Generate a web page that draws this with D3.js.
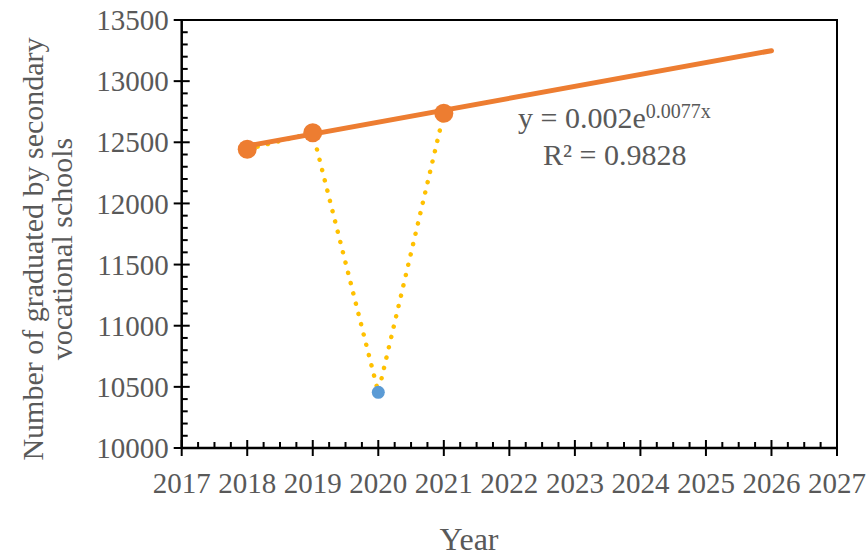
<!DOCTYPE html>
<html>
<head>
<meta charset="utf-8">
<script src="https://cdn.jsdelivr.net/npm/d3@7"></script>
<style>
  body { margin: 0; background: #fff; }
  text { font-family: 'Liberation Serif', 'Times New Roman', serif; fill: #595959; }
</style>
</head>
<body>
<svg id="chart" width="867" height="556"></svg>
<script>
// values
var years = [2018, 2019, 2020, 2021]
var graduates = [12443, 12578, 10455, 12737]
var fitYears = [2018, 2019, 2021]
var fitGraduates = [12443, 12578, 12737]
var trendYears = [2018, 2026]
var trendValues = [12470, 13249]
var xTicks = [2017, 2018, 2019, 2020, 2021, 2022, 2023, 2024, 2025, 2026, 2027]
var yTicks = [10000, 10500, 11000, 11500, 12000, 12500, 13000, 13500]

var svg = d3.select('#chart'),
  plotLeft = 181.7, plotRight = 837, plotTop = 20, plotBottom = 448

var x = d3.scaleLinear().domain([2017, 2027]).range([plotLeft, plotRight])
var y = d3.scaleLinear().domain([10000, 13500]).range([plotBottom, plotTop])

// frame (top and right edges)
svg.append('path')
  .attr('d', 'M' + plotLeft + ',' + plotTop + 'H' + plotRight + 'V' + plotBottom)
  .attr('fill', 'none').attr('stroke', '#000').attr('stroke-width', 2)

// y axis
var yAxis = svg.append('g').attr('transform', 'translate(' + plotLeft + ',0)')
yAxis.append('line').attr('y1', plotTop - 1).attr('y2', plotBottom).attr('stroke', '#000').attr('stroke-width', 2.5)
yAxis.selectAll('.minor')
  .data(d3.range(10000, 13500, 100).filter(function(d) { return d % 500 })).enter()
  .append('line').attr('x1', 0).attr('x2', 6)
  .attr('y1', function(d) { return y(d) }).attr('y2', function(d) { return y(d) })
  .attr('stroke', '#000').attr('stroke-width', 2)
yAxis.selectAll('.major')
  .data(yTicks).enter()
  .append('line').attr('x1', -8).attr('x2', 8)
  .attr('y1', function(d) { return y(d) }).attr('y2', function(d) { return y(d) })
  .attr('stroke', '#000').attr('stroke-width', 2)
yAxis.selectAll('.lbl')
  .data(yTicks).enter()
  .append('text')
  .attr('x', -13).attr('y', function(d) { return y(d) }).attr('dy', '0.35em')
  .attr('text-anchor', 'end').style('font-size', '29px')
  .text(function(d) { return d })

// x axis
var xAxis = svg.append('g').attr('transform', 'translate(0,' + plotBottom + ')')
xAxis.append('line').attr('x1', plotLeft).attr('x2', plotRight).attr('stroke', '#000').attr('stroke-width', 2.5)
xAxis.selectAll('.minor')
  .data(d3.range(2017, 2027, 0.25).filter(function(d) { return d % 1 })).enter()
  .append('line').attr('y1', 0).attr('y2', -6)
  .attr('x1', function(d) { return x(d) }).attr('x2', function(d) { return x(d) })
  .attr('stroke', '#000').attr('stroke-width', 2)
xAxis.selectAll('.major')
  .data(xTicks).enter()
  .append('line').attr('y1', -8).attr('y2', 8)
  .attr('x1', function(d) { return x(d) }).attr('x2', function(d) { return x(d) })
  .attr('stroke', '#000').attr('stroke-width', 2)
xAxis.selectAll('.lbl')
  .data(xTicks).enter()
  .append('text')
  .attr('x', function(d) { return x(d) }).attr('y', 45)
  .attr('text-anchor', 'middle').style('font-size', '29px')
  .text(function(d) { return d })

// axis titles
svg.append('text').attr('x', 469).attr('y', 550).attr('text-anchor', 'middle')
  .style('font-size', '32px').text('Year')
var yt = svg.append('text').attr('transform', 'translate(43,249) rotate(-90)')
  .attr('text-anchor', 'middle').style('font-size', '30px')
yt.append('tspan').attr('x', 0).attr('y', 0).text('Number of graduated by secondary')
yt.append('tspan').attr('x', 0).attr('y', 29).text('vocational schools')

// dotted series through all years
var line = d3.line().x(function(d) { return x(d[0]) }).y(function(d) { return y(d[1]) })
svg.append('path')
  .attr('d', line(d3.zip(years, graduates)))
  .attr('fill', 'none').attr('stroke', '#FFC000').attr('stroke-width', 4.5)
  .attr('stroke-linecap', 'round').attr('stroke-dasharray', '0.1 10.5')

svg.selectAll('.blue')
  .data(d3.zip(years, graduates)).enter()
  .append('circle')
  .attr('cx', function(d) { return x(d[0]) }).attr('cy', function(d) { return y(d[1]) })
  .attr('r', 6.5).attr('fill', '#5B9BD5')

// exponential trendline
svg.append('path')
  .attr('d', line(d3.zip(trendYears, trendValues)))
  .attr('fill', 'none').attr('stroke', '#ED7D31').attr('stroke-width', 5)
  .attr('stroke-linecap', 'round')

svg.selectAll('.orange')
  .data(d3.zip(fitYears, fitGraduates)).enter()
  .append('circle')
  .attr('cx', function(d) { return x(d[0]) }).attr('cy', function(d) { return y(d[1]) })
  .attr('r', 9.5).attr('fill', '#ED7D31')

// trendline label
var eq = svg.append('text').attr('x', 518).attr('y', 128).style('font-size', '30px')
eq.append('tspan').text('y = 0.002e')
eq.append('tspan').attr('dy', -10).style('font-size', '20px').text('0.0077x')
svg.append('text').attr('x', 543).attr('y', 165).style('font-size', '30px').text('R² = 0.9828')
</script>
</body>
</html>
